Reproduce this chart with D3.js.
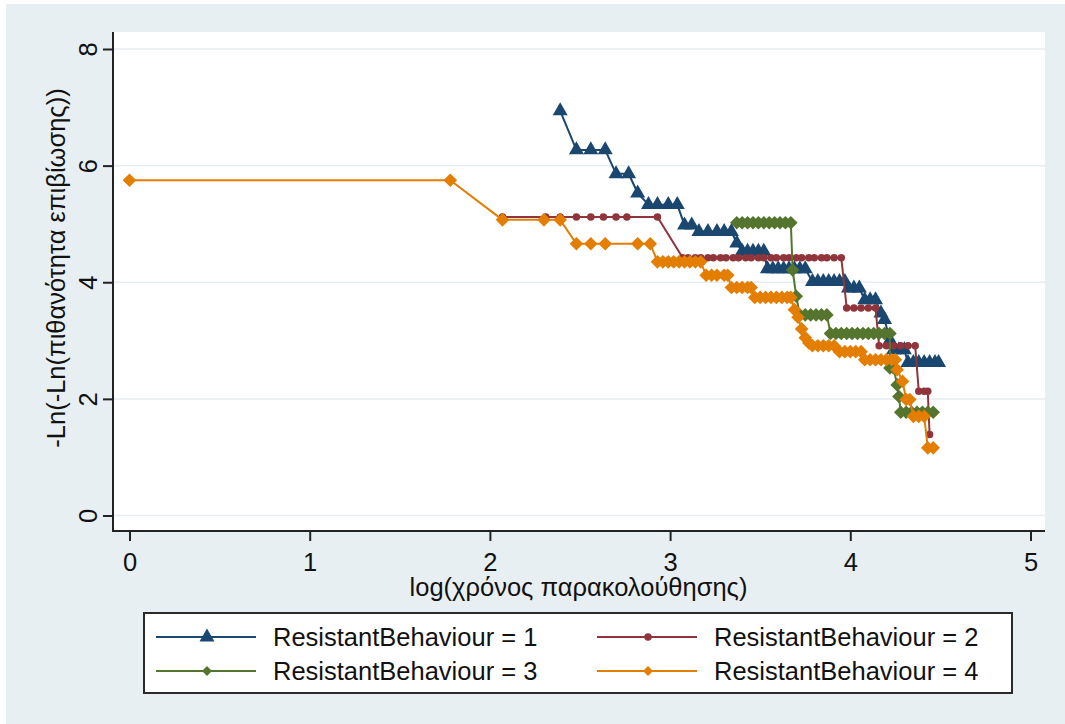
<!DOCTYPE html>
<html>
<head>
<meta charset="utf-8">
<script src="https://cdn.jsdelivr.net/npm/d3@7"></script>
<style>
  html, body { margin: 0; padding: 0; background: #ffffff; }
  svg { display: block; }
  text { font-family: "Liberation Sans", Arial, sans-serif; fill: #111; }
</style>
</head>
<body>
<svg id="chart" width="1065" height="724"></svg>
<script>
// log(follow-up time) vs -ln(-ln(survival)) for each ResistantBehaviour group
const xTicks = [0, 1, 2, 3, 4, 5];
const yTicks = [0, 2, 4, 6, 8];

const seriesNames = [
  "ResistantBehaviour = 1",
  "ResistantBehaviour = 2",
  "ResistantBehaviour = 3",
  "ResistantBehaviour = 4"
];

const group1 = [
  [2.39, 6.94],
  [2.48, 6.27], [2.56, 6.27], [2.64, 6.27],
  [2.70, 5.86], [2.77, 5.86],
  [2.82, 5.53],
  [2.88, 5.33], [2.93, 5.33], [2.99, 5.33], [3.04, 5.33],
  [3.08, 4.98], [3.12, 4.98],
  [3.16, 4.87], [3.21, 4.87], [3.26, 4.87], [3.30, 4.87], [3.34, 4.87],
  [3.37, 4.67],
  [3.40, 4.53], [3.43, 4.53], [3.46, 4.53], [3.49, 4.53], [3.52, 4.53],
  [3.54, 4.23], [3.57, 4.23], [3.60, 4.23], [3.63, 4.23], [3.66, 4.23], [3.69, 4.23], [3.72, 4.23], [3.75, 4.23],
  [3.79, 4.01], [3.82, 4.01], [3.85, 4.01], [3.88, 4.01], [3.91, 4.01], [3.94, 4.01], [3.97, 4.01],
  [3.99, 3.90], [4.02, 3.90], [4.05, 3.90],
  [4.08, 3.70], [4.11, 3.70], [4.14, 3.70],
  [4.17, 3.47], [4.19, 3.36],
  [4.22, 3.01],
  [4.24, 2.84], [4.27, 2.84], [4.30, 2.84],
  [4.32, 2.62], [4.35, 2.62], [4.38, 2.62], [4.41, 2.62], [4.44, 2.62], [4.47, 2.62], [4.49, 2.62]
];

const group2 = [
  [2.07, 5.12], [2.31, 5.12], [2.39, 5.12], [2.48, 5.12], [2.56, 5.12], [2.63, 5.12], [2.70, 5.12], [2.76, 5.12], [2.93, 5.12],
  [3.07, 4.42], [3.10, 4.42], [3.14, 4.42], [3.17, 4.42], [3.21, 4.42], [3.24, 4.42], [3.28, 4.42], [3.31, 4.42],
  [3.35, 4.42], [3.38, 4.42], [3.42, 4.42], [3.45, 4.42], [3.49, 4.42], [3.52, 4.42], [3.56, 4.42], [3.59, 4.42],
  [3.63, 4.42], [3.66, 4.42], [3.70, 4.42], [3.73, 4.42], [3.77, 4.42], [3.80, 4.42], [3.84, 4.42], [3.87, 4.42],
  [3.91, 4.42], [3.95, 4.42],
  [3.98, 3.56], [4.02, 3.56], [4.06, 3.56], [4.10, 3.56], [4.14, 3.56],
  [4.16, 2.91], [4.20, 2.91], [4.24, 2.91], [4.28, 2.91], [4.32, 2.91], [4.36, 2.91],
  [4.38, 2.13], [4.41, 2.13], [4.43, 2.13],
  [4.44, 1.39]
];

const group3 = [
  [3.37, 5.02], [3.40, 5.02], [3.43, 5.02], [3.46, 5.02], [3.49, 5.02], [3.52, 5.02], [3.55, 5.02], [3.58, 5.02], [3.61, 5.02], [3.64, 5.02], [3.67, 5.02],
  [3.68, 4.21],
  [3.70, 3.76],
  [3.72, 3.44], [3.75, 3.44], [3.78, 3.44], [3.81, 3.44], [3.84, 3.44], [3.87, 3.44],
  [3.89, 3.12], [3.92, 3.12], [3.95, 3.12], [3.98, 3.12], [4.01, 3.12], [4.04, 3.12], [4.07, 3.12], [4.10, 3.12], [4.13, 3.12], [4.16, 3.12], [4.19, 3.12], [4.22, 3.12],
  [4.22, 2.53], [4.24, 2.53],
  [4.26, 2.24],
  [4.27, 2.04],
  [4.28, 1.77], [4.31, 1.77], [4.34, 1.77], [4.37, 1.77], [4.40, 1.77], [4.43, 1.77], [4.46, 1.77]
];

const group4 = [
  [0.00, 5.75], [1.78, 5.75],
  [2.07, 5.07], [2.30, 5.07], [2.39, 5.07],
  [2.48, 4.66], [2.56, 4.66], [2.64, 4.66], [2.82, 4.66], [2.89, 4.66],
  [2.93, 4.35], [2.96, 4.35], [2.99, 4.35], [3.02, 4.35], [3.05, 4.35], [3.08, 4.35], [3.11, 4.35], [3.14, 4.35], [3.17, 4.35],
  [3.20, 4.12], [3.23, 4.12], [3.26, 4.12], [3.30, 4.12], [3.32, 4.12],
  [3.34, 3.91], [3.37, 3.91], [3.40, 3.91], [3.43, 3.91], [3.45, 3.91],
  [3.47, 3.74], [3.50, 3.74], [3.53, 3.74], [3.56, 3.74], [3.59, 3.74], [3.62, 3.74], [3.65, 3.74], [3.67, 3.74],
  [3.69, 3.53], [3.71, 3.40], [3.73, 3.20], [3.75, 3.05], [3.77, 2.96],
  [3.79, 2.91], [3.82, 2.91], [3.85, 2.91], [3.88, 2.91], [3.91, 2.91],
  [3.94, 2.81], [3.97, 2.81], [4.00, 2.81], [4.03, 2.81], [4.06, 2.81],
  [4.08, 2.67], [4.11, 2.67], [4.14, 2.67], [4.17, 2.67], [4.20, 2.67], [4.23, 2.67], [4.25, 2.67],
  [4.26, 2.50], [4.29, 2.30],
  [4.31, 1.99], [4.33, 1.99],
  [4.35, 1.70], [4.38, 1.70], [4.41, 1.70],
  [4.43, 1.16], [4.46, 1.16]
];

const seriesData = [group1, group2, group3, group4];
const colors = ["#1a476f", "#90353b", "#55752f", "#e37e00"];
const shapes = ["triangle", "circle", "diamond", "diamond"];

const svg = d3.select("#chart");
const W = 1065, H = 724;

// graph region
svg.append("rect").attr("x", 6).attr("y", 4).attr("width", W - 6).attr("height", H - 4)
  .attr("fill", "#e8eff2");

// plot region
const plot = { left: 112, right: 1045, top: 32, bottom: 531 };
svg.append("rect")
  .attr("x", plot.left).attr("y", plot.top)
  .attr("width", plot.right - plot.left).attr("height", plot.bottom - plot.top)
  .attr("fill", "#ffffff");

const x = d3.scaleLinear().domain([0, 5]).range([129.5, 1030.5]);
const y = d3.scaleLinear().domain([0, 8]).range([515.5, 49]);

// horizontal grid
svg.append("g").selectAll("line").data(yTicks).join("line")
  .attr("x1", plot.left + 1).attr("x2", plot.right)
  .attr("y1", d => y(d)).attr("y2", d => y(d))
  .attr("stroke", "#e6eef1").attr("stroke-width", 1.5);

// y axis
const yAxis = svg.append("g")
  .attr("transform", `translate(${plot.left + 1},0)`)
  .call(d3.axisLeft(y).tickValues(yTicks).tickSize(10).tickPadding(0).tickFormat(d3.format("d")));
yAxis.select(".domain").attr("d", `M0,${plot.top}V${plot.bottom}`).attr("stroke", "#222").attr("stroke-width", 2);
yAxis.selectAll(".tick line").attr("stroke", "#222").attr("stroke-width", 2);
yAxis.selectAll(".tick text")
  .attr("font-size", 25.5).attr("fill", "#111")
  .attr("x", null).attr("dy", null)
  .attr("text-anchor", "middle")
  .attr("transform", "translate(-16,0) rotate(-90)");

// x axis
const xAxis = svg.append("g")
  .attr("transform", `translate(0,${plot.bottom})`)
  .call(d3.axisBottom(x).tickValues(xTicks).tickSize(10).tickPadding(0).tickFormat(d3.format("d")));
xAxis.select(".domain").attr("d", `M${plot.left},0H${plot.right}`).attr("stroke", "#222").attr("stroke-width", 2);
xAxis.selectAll(".tick line").attr("stroke", "#222").attr("stroke-width", 2);
xAxis.selectAll(".tick text")
  .attr("font-size", 25.5).attr("fill", "#111")
  .attr("y", 40).attr("dy", null);

// axis titles
svg.append("text")
  .attr("x", (plot.left + plot.right) / 2).attr("y", 596)
  .attr("text-anchor", "middle").attr("font-size", 25.5)
  .text("log(χρόνος παρακολούθησης)");

svg.append("text")
  .attr("transform", "translate(65,268) rotate(-90)")
  .attr("text-anchor", "middle").attr("font-size", 25.5)
  .text("-Ln(-Ln(πιθανότητα επιβίωσης))");

// marker drawing
function markerPath(shape) {
  if (shape === "triangle") return "M0,-8.6L7.5,4.4L-7.5,4.4Z";
  if (shape === "diamond") return "M0,-6.8L6.8,0L0,6.8L-6.8,0Z";
  return d3.symbol(d3.symbolCircle, 44)();
}

const line = d3.line().x(d => x(d[0])).y(d => y(d[1]));

seriesData.forEach((data, i) => {
  const g = svg.append("g");
  g.append("path").datum(data)
    .attr("d", line)
    .attr("fill", "none").attr("stroke", colors[i]).attr("stroke-width", 2)
    .attr("stroke-linejoin", "round");
  g.selectAll("path.m").data(data).join("path")
    .attr("class", "m")
    .attr("transform", d => `translate(${x(d[0])},${y(d[1])})`)
    .attr("d", markerPath(shapes[i]))
    .attr("fill", colors[i]);
});

// legend
const legend = svg.append("g");
legend.append("rect")
  .attr("x", 144).attr("y", 613).attr("width", 868).attr("height", 80)
  .attr("fill", "#ffffff").attr("stroke", "#2a2a2a").attr("stroke-width", 2);

const legendPos = [
  { lx: 156, cy: 637 },
  { lx: 597, cy: 637 },
  { lx: 156, cy: 671 },
  { lx: 597, cy: 671 }
];

seriesNames.forEach((name, i) => {
  const p = legendPos[i];
  const item = legend.append("g");
  item.append("line")
    .attr("x1", p.lx).attr("x2", p.lx + 100)
    .attr("y1", p.cy).attr("y2", p.cy)
    .attr("stroke", colors[i]).attr("stroke-width", 2);
  item.append("path")
    .attr("transform", `translate(${p.lx + 51},${p.cy})`)
    .attr("d", shapes[i] === "diamond" ? "M0,-5L5,0L0,5L-5,0Z" : markerPath(shapes[i]))
    .attr("fill", colors[i]);
  item.append("text")
    .attr("x", p.lx + 117).attr("y", p.cy + 9)
    .attr("font-size", 25.5)
    .text(name);
});
</script>
</body>
</html>
